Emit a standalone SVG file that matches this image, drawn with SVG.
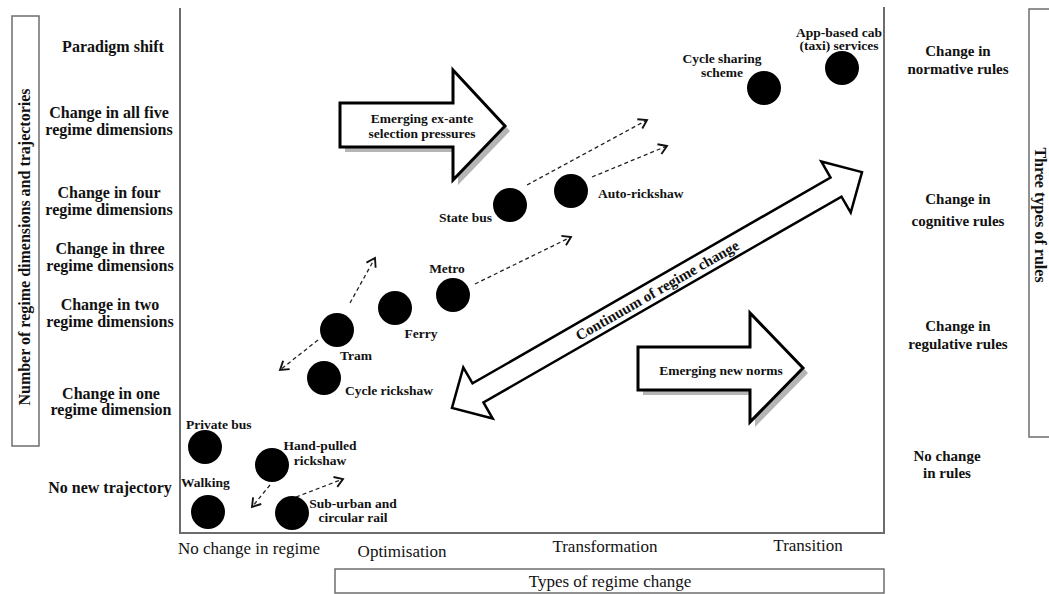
<svg xmlns="http://www.w3.org/2000/svg" width="1049" height="594" viewBox="0 0 1049 594">
<style>
text{font-family:"Liberation Serif","Times New Roman",serif;fill:#111}
.ax{font-size:16px;font-weight:bold;text-anchor:middle}
.rl{font-size:15px;font-weight:bold;text-anchor:middle}
.bl{font-size:17px;text-anchor:middle}
.nl{font-size:13.5px;font-weight:bold}
.dot{fill:#000}
.frame{stroke:#6d6d6d;stroke-width:2;fill:none}
.box{stroke:#6d6d6d;stroke-width:1.5;fill:#fff}
.dash{stroke:#222;stroke-width:1.3;stroke-dasharray:4 3;fill:none;marker-end:url(#ah)}
.big{fill:#fff;stroke:#000;stroke-width:3;stroke-linejoin:miter}
.shadow{fill:#b5b5b5}
</style>
<defs>
<marker id="ah" markerUnits="userSpaceOnUse" markerWidth="14" markerHeight="14" viewBox="-9 -6 12 12" refX="0" refY="0" orient="auto">
<path d="M-7,-4.5 L0,0 L-7,4.5" fill="none" stroke="#111" stroke-width="1.6"/>
</marker>
</defs>
<rect width="1049" height="594" fill="#fff"/>

<g id="frame">
<path class="frame" d="M180,8 V533 H884 V7"/>
</g>

<g id="y-axis-box">
<rect class="box" x="12" y="16" width="27" height="430"/>
<text class="ax" transform="translate(30,247) rotate(-90)">Number of regime dimensions and trajectories</text>
</g>
<g id="rules-box">
<rect class="box" x="1029" y="9" width="30" height="428"/>
<text class="ax" transform="translate(1035,215) rotate(90)">Three types of rules</text>
</g>
<g id="x-axis-box">
<rect class="box" x="335" y="569" width="549" height="24"/>
<text class="bl" x="610" y="587">Types of regime change</text>
</g>

<g id="y-labels">
<text class="ax" x="113" y="52">Paradigm shift</text>
<text class="ax" x="109" y="118">Change in all five</text>
<text class="ax" x="109" y="135">regime dimensions</text>
<text class="ax" x="109" y="198">Change in four</text>
<text class="ax" x="109" y="215">regime dimensions</text>
<text class="ax" x="110" y="254">Change in three</text>
<text class="ax" x="110" y="271">regime dimensions</text>
<text class="ax" x="110" y="310">Change in two</text>
<text class="ax" x="110" y="327">regime dimensions</text>
<text class="ax" x="111" y="399">Change in one</text>
<text class="ax" x="111" y="415">regime dimension</text>
<text class="ax" x="110" y="493">No new trajectory</text>
</g>

<g id="rule-labels">
<text class="rl" x="958" y="56">Change in</text>
<text class="rl" x="958" y="74">normative rules</text>
<text class="rl" x="958" y="204">Change in</text>
<text class="rl" x="958" y="226">cognitive rules</text>
<text class="rl" x="958" y="331">Change in</text>
<text class="rl" x="958" y="349">regulative rules</text>
<text class="rl" x="947" y="461">No change</text>
<text class="rl" x="947" y="478">in rules</text>
</g>

<g id="x-labels">
<text class="bl" x="249" y="554">No change in regime</text>
<text class="bl" x="402" y="557">Optimisation</text>
<text class="bl" x="605" y="552">Transformation</text>
<text class="bl" x="808" y="551">Transition</text>
</g>

<g id="ex-ante-arrow">
<polygon class="shadow" points="345,108 458,108 458,75 510,131 458,185 458,152 345,152"/>
<polygon class="big" points="340,103 453,103 453,70 505,126 453,180 453,147 340,147"/>
<text class="nl" x="422" y="123" text-anchor="middle">Emerging ex-ante</text>
<text class="nl" x="422" y="138" text-anchor="middle">selection pressures</text>
</g>

<g id="new-norms-arrow">
<polygon class="shadow" points="643,352 755,352 755,318 808,373 755,427 755,395 643,395"/>
<polygon class="big" points="638,347 750,347 750,313 803,368 750,422 750,390 638,390"/>
<text class="nl" x="721" y="375" text-anchor="middle">Emerging new norms</text>
</g>

<g id="continuum-arrow" transform="translate(657,290) rotate(-29.9)">
<polygon class="big" style="stroke-width:2.5" points="236.5,0 206.5,-29.5 206.5,-11 -206.5,-11 -206.5,-29.5 -236.5,0 -206.5,29.5 -206.5,11 206.5,11 206.5,29.5"/>
<text x="0" y="5.5" text-anchor="middle" style="font-size:15px;font-weight:bold">Continuum of regime change</text>
</g>

<g id="connectors">
<line class="dash" x1="527" y1="185" x2="647" y2="120"/>
<line class="dash" x1="592" y1="177" x2="667" y2="146"/>
<line class="dash" x1="475" y1="284" x2="571" y2="237"/>
<line class="dash" x1="350" y1="303" x2="375" y2="258"/>
<line class="dash" x1="318" y1="340" x2="280" y2="370"/>
<line class="dash" x1="270" y1="485" x2="252" y2="507"/>
<line class="dash" x1="296" y1="497" x2="343" y2="479"/>
</g>

<g id="app-cab"><circle class="dot" cx="842" cy="68" r="17"/><text class="nl" x="839" y="37" text-anchor="middle">App-based cab</text><text class="nl" x="839" y="50" text-anchor="middle">(taxi) services</text></g>
<g id="cycle-sharing"><circle class="dot" cx="764" cy="88" r="17"/><text class="nl" x="722" y="63" text-anchor="middle">Cycle sharing</text><text class="nl" x="722" y="77" text-anchor="middle">scheme</text></g>
<g id="state-bus"><circle class="dot" cx="510" cy="205" r="17"/><text class="nl" x="492" y="222" text-anchor="end">State bus</text></g>
<g id="auto-rickshaw"><circle class="dot" cx="571" cy="191" r="17"/><text class="nl" x="598" y="198">Auto-rickshaw</text></g>
<g id="metro"><circle class="dot" cx="453" cy="295" r="17"/><text class="nl" x="447" y="273" text-anchor="middle">Metro</text></g>
<g id="ferry"><circle class="dot" cx="395" cy="308" r="17"/><text class="nl" x="421" y="338" text-anchor="middle">Ferry</text></g>
<g id="tram"><circle class="dot" cx="337" cy="330" r="17"/><text class="nl" x="356" y="360" text-anchor="middle">Tram</text></g>
<g id="cycle-rickshaw"><circle class="dot" cx="324" cy="378" r="17"/><text class="nl" x="345" y="395">Cycle rickshaw</text></g>
<g id="private-bus"><circle class="dot" cx="205" cy="447" r="17"/><text class="nl" x="186" y="429">Private bus</text></g>
<g id="hand-pulled"><circle class="dot" cx="272" cy="465" r="17"/><text class="nl" x="320" y="450" text-anchor="middle">Hand-pulled</text><text class="nl" x="320" y="465" text-anchor="middle">rickshaw</text></g>
<g id="walking"><circle class="dot" cx="208" cy="512" r="17"/><text class="nl" x="181" y="487">Walking</text></g>
<g id="sub-urban"><circle class="dot" cx="292" cy="513" r="17"/><text class="nl" x="353" y="508" text-anchor="middle">Sub-urban and</text><text class="nl" x="353" y="522" text-anchor="middle">circular rail</text></g>
</svg>
